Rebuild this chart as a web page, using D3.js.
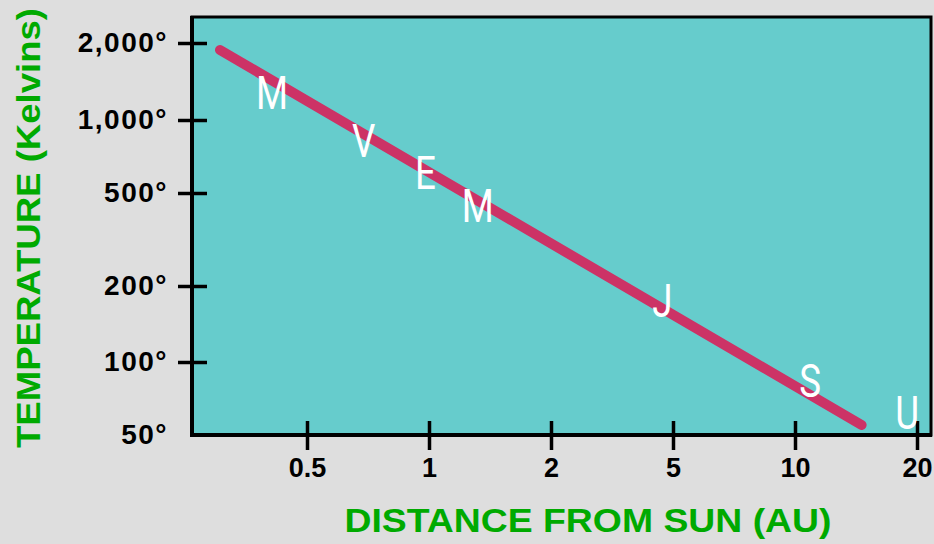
<!DOCTYPE html>
<html>
<head>
<meta charset="utf-8">
<script src="https://cdn.jsdelivr.net/npm/d3@7"></script>
<style>
  html, body { margin: 0; padding: 0; background: #dedede; }
  svg { display: block; }
</style>
</head>
<body>
<div id="wrapper"></div>
<script>
// tick values + labels
const xTicks = [0.5, 1, 2, 5, 10, 20];
const xTickLabels = ["0.5", "1", "2", "5", "10", "20"];
const yTicks = [50, 100, 200, 500, 1000, 2000];
const yTickLabels = ["50°", "100°", "200°", "500°", "1,000°", "2,000°"];

// temperature line (AU, Kelvins)
const lineDistance = [0.305, 14.6];
const lineTemp = [1878, 55];

// planet initials
const planetLetters = ["M", "V", "E", "M", "J", "S", "U"];
const planetDistance = [0.41, 0.69, 0.98, 1.32, 4.62, 10.9, 18.9];
const planetTemp = [1287, 827, 610, 443, 176, 84, 62];

let dimensions = {
  width: 934,
  height: 544,
  plotLeft: 192,
  plotRight: 931,
  plotTop: 17,
  plotBottom: 435,
};

const wrapper = d3.select("#wrapper").append("svg")
  .attr("width", dimensions.width)
  .attr("height", dimensions.height);

wrapper.append("rect")
  .attr("width", dimensions.width)
  .attr("height", dimensions.height)
  .attr("fill", "#dedede");

// the axis ticks are evenly spaced although the values are not, so piecewise log scales
const xStep = 122;
const xScale = d3.scaleLog()
  .domain(xTicks)
  .range(xTicks.map((d, i) => 307 + i * xStep));

const yScale = d3.scaleLog()
  .domain(yTicks)
  .range([435, 362, 286, 193, 120, 43]);

// plot area
wrapper.append("rect")
  .attr("x", dimensions.plotLeft)
  .attr("y", dimensions.plotTop)
  .attr("width", dimensions.plotRight - dimensions.plotLeft)
  .attr("height", dimensions.plotBottom - dimensions.plotTop)
  .attr("fill", "#66cccc")
  .attr("stroke", "#000")
  .attr("stroke-width", 3);

// thicker left and bottom edges
wrapper.append("path")
  .attr("d", `M${dimensions.plotLeft},${dimensions.plotTop - 1}V${dimensions.plotBottom}H${dimensions.plotRight + 1}`)
  .attr("fill", "none")
  .attr("stroke", "#000")
  .attr("stroke-width", 4);

// axes
const xAxisGenerator = d3.axisBottom(xScale)
  .tickValues(xTicks)
  .tickFormat((d, i) => xTickLabels[i])
  .tickSize(0)
  .tickPadding(23);

const xAxis = wrapper.append("g")
  .attr("transform", `translate(0, ${dimensions.plotBottom})`)
  .call(xAxisGenerator);

xAxis.select(".domain").remove();
xAxis.selectAll(".tick line")
  .attr("y1", -14)
  .attr("y2", 15)
  .attr("stroke", "#000")
  .attr("stroke-width", 3.5);
xAxis.selectAll(".tick text")
  .attr("font-family", "'Liberation Sans', Arial, sans-serif")
  .attr("font-weight", "bold")
  .attr("font-size", 27)
  .attr("fill", "#000");

const yAxisGenerator = d3.axisLeft(yScale)
  .tickValues(yTicks)
  .tickFormat((d, i) => yTickLabels[i])
  .tickSize(0)
  .tickPadding(24);

const yAxis = wrapper.append("g")
  .attr("transform", `translate(${dimensions.plotLeft}, 0)`)
  .call(yAxisGenerator);

yAxis.select(".domain").remove();
yAxis.selectAll(".tick line")
  .attr("x1", -14)
  .attr("x2", 15)
  .attr("stroke", "#000")
  .attr("stroke-width", 3.5)
  .attr("display", d => d === 50 ? "none" : null);
yAxis.selectAll(".tick text")
  .attr("font-family", "'Liberation Sans', Arial, sans-serif")
  .attr("font-weight", "bold")
  .attr("font-size", 28)
  .attr("letter-spacing", 1.5)
  .attr("fill", "#000");

// temperature line
const lineGenerator = d3.line()
  .x(d => xScale(d[0]))
  .y(d => yScale(d[1]));

wrapper.append("path")
  .attr("d", lineGenerator(d3.zip(lineDistance, lineTemp)))
  .attr("fill", "none")
  .attr("stroke", "#cc3366")
  .attr("stroke-width", 10)
  .attr("stroke-linecap", "round");

// planet letters
wrapper.append("g")
  .selectAll("text")
  .data(planetLetters)
  .join("text")
  .attr("transform", (d, i) => `translate(${xScale(planetDistance[i])}, ${yScale(planetTemp[i])}) scale(0.78, 1)`)
  .attr("dy", "0.355em")
  .attr("text-anchor", "middle")
  .attr("font-family", "Roboto, 'Open Sans', sans-serif")
  .attr("font-weight", 400)
  .attr("font-size", 47)
  .attr("fill", "#fff")
  .text(d => d);

// axis titles
wrapper.append("text")
  .attr("x", 588)
  .attr("y", 532)
  .attr("text-anchor", "middle")
  .attr("font-family", "'Liberation Sans', Arial, sans-serif")
  .attr("font-weight", "bold")
  .attr("font-size", 33)
  .attr("textLength", 487)
  .attr("lengthAdjust", "spacingAndGlyphs")
  .attr("fill", "#00aa00")
  .text("DISTANCE FROM SUN (AU)");

wrapper.append("text")
  .attr("transform", "translate(40, 228) rotate(-90)")
  .attr("text-anchor", "middle")
  .attr("font-family", "'Liberation Sans', Arial, sans-serif")
  .attr("font-weight", "bold")
  .attr("font-size", 33)
  .attr("textLength", 440)
  .attr("lengthAdjust", "spacingAndGlyphs")
  .attr("fill", "#00aa00")
  .text("TEMPERATURE (Kelvins)");
</script>
</body>
</html>
